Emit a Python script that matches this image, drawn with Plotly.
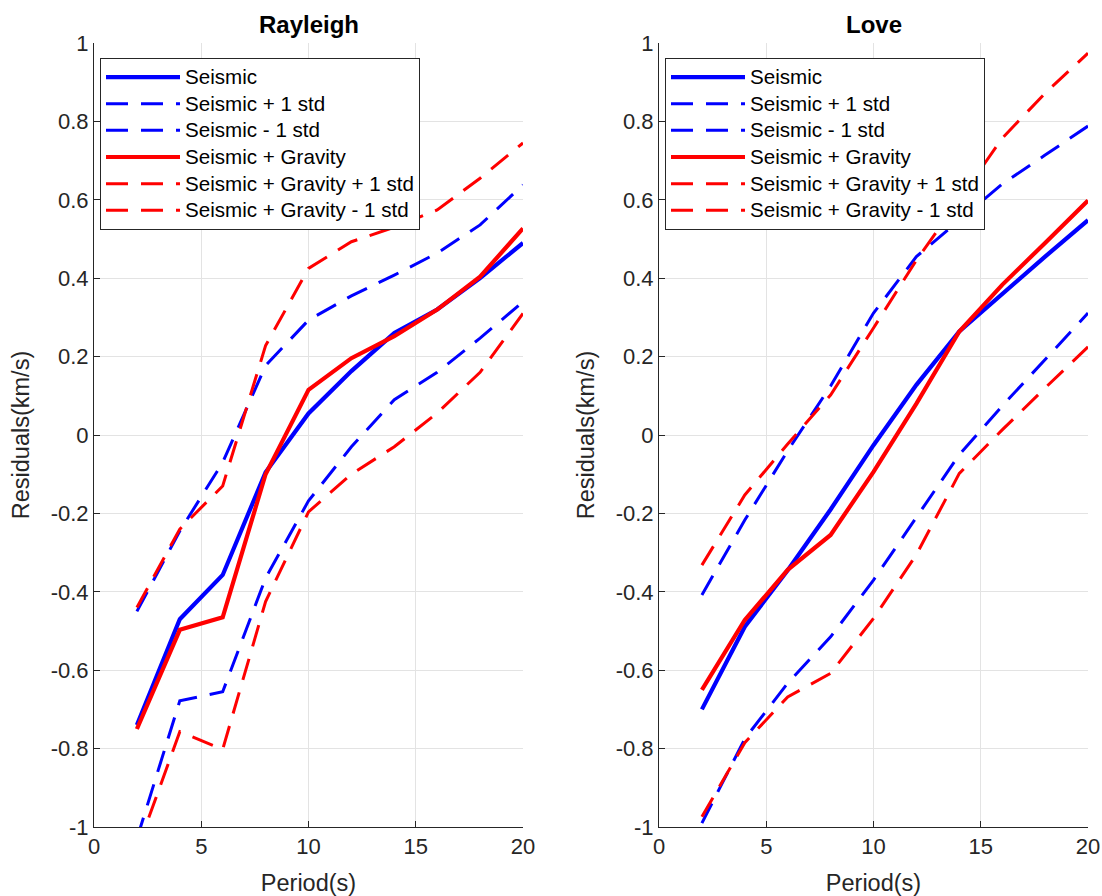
import plotly.graph_objects as go

periods = [2, 4, 6, 8, 10, 12, 14, 16, 18, 20]

# Rayleigh
ray_seis = [-0.74, -0.47, -0.357, -0.095, 0.055, 0.163, 0.26, 0.32, 0.40, 0.49]
ray_seis_p = [-0.45, -0.245, -0.07, 0.177, 0.293, 0.355, 0.408, 0.464, 0.536, 0.638]
ray_seis_m = [-1.03, -0.678, -0.655, -0.365, -0.168, -0.03, 0.09, 0.16, 0.247, 0.34]
ray_grav = [-0.75, -0.497, -0.465, -0.1, 0.115, 0.196, 0.252, 0.32, 0.404, 0.527]
ray_grav_p = [-0.44, -0.24, -0.13, 0.228, 0.425, 0.493, 0.53, 0.574, 0.655, 0.745]
ray_grav_m = [-1.06, -0.757, -0.802, -0.425, -0.196, -0.1, -0.03, 0.056, 0.16, 0.31]

# Love
love_seis = [-0.70, -0.489, -0.345, -0.19, -0.026, 0.128, 0.264, 0.361, 0.455, 0.548]
love_seis_p = [-0.408, -0.217, -0.04, 0.125, 0.311, 0.455, 0.548, 0.64, 0.714, 0.788]
love_seis_m = [-0.99, -0.775, -0.633, -0.515, -0.37, -0.211, -0.05, 0.074, 0.192, 0.311]
love_grav = [-0.65, -0.472, -0.344, -0.255, -0.094, 0.08, 0.264, 0.383, 0.49, 0.598]
love_grav_p = [-0.332, -0.153, -0.023, 0.102, 0.273, 0.446, 0.60, 0.757, 0.872, 0.974]
love_grav_m = [-0.974, -0.785, -0.668, -0.608, -0.468, -0.305, -0.098, 0.013, 0.12, 0.225]

names = ["Seismic", "Seismic + 1 std", "Seismic - 1 std",
         "Seismic + Gravity", "Seismic + Gravity + 1 std", "Seismic + Gravity - 1 std"]
colors = ["#0000ff", "#0000ff", "#0000ff", "#ff0000", "#ff0000", "#ff0000"]
dashed = [False, True, True, False, True, True]

x_ticks = [0, 5, 10, 15, 20]
y_ticks = [-1, -0.8, -0.6, -0.4, -0.2, 0, 0.2, 0.4, 0.6, 0.8, 1]
y_tick_text = ["-1", "-0.8", "-0.6", "-0.4", "-0.2", "0", "0.2", "0.4", "0.6", "0.8", "1"]

FONT = "Liberation Sans, Arial, Helvetica, sans-serif"
TXT = "#262626"

fig = go.Figure()

panels = [
    ("x", "y", "legend", [ray_seis, ray_seis_p, ray_seis_m, ray_grav, ray_grav_p, ray_grav_m]),
    ("x2", "y2", "legend2", [love_seis, love_seis_p, love_seis_m, love_grav, love_grav_p, love_grav_m]),
]
for xa, ya, lg, series in panels:
    for name, col, dsh, vals in zip(names, colors, dashed, series):
        fig.add_trace(go.Scatter(
            x=periods, y=vals, mode="lines",
            name='<span style="font-size:20.6px">' + name + '</span>',
            xaxis=xa, yaxis=ya, legend=lg,
            line=dict(color=col, width=3 if dsh else 4.2, dash="22px,13px" if dsh else "solid"),
        ))

axis_common = dict(
    showline=True, linecolor=TXT, linewidth=1, ticks="inside", ticklen=6, tickcolor=TXT,
    showgrid=True, gridcolor="#e3e3e3", gridwidth=1, zeroline=False, mirror=False,
    tickfont=dict(family=FONT, size=22, color=TXT),
)
xcommon = dict(axis_common, range=[0, 20], tickvals=x_ticks,
               title=dict(text="Period(s)", font=dict(family=FONT, size=23.5, color=TXT), standoff=17))
ycommon = dict(axis_common, range=[-1, 1], tickvals=y_ticks, ticktext=y_tick_text,
               title=dict(text="Residuals(km/s)", font=dict(family=FONT, size=23.5, color=TXT), standoff=14))

L, R, T, B = 94, 14, 43, 69
W, H = 1102, 896
pw = W - L - R
d1 = (523 - L) / pw
d2 = (659 - L) / pw

legend_common = dict(
    bgcolor="white", bordercolor=TXT, borderwidth=1,
    font=dict(family=FONT, size=18.2, color="#000000"),
    xanchor="left", yanchor="top", itemwidth=74,
)

fig.update_layout(
    width=W, height=H,
    margin=dict(l=L, r=R, t=T, b=B, autoexpand=False),
    paper_bgcolor="white", plot_bgcolor="white",
    font=dict(family=FONT, color=TXT),
    xaxis=dict(xcommon, domain=[0, d1], anchor="y"),
    yaxis=dict(ycommon, domain=[0, 1], anchor="x"),
    xaxis2=dict(xcommon, domain=[d2, 1], anchor="y2"),
    yaxis2=dict(ycommon, domain=[0, 1], anchor="x2"),
    legend=dict(legend_common, x=(100 - L) / pw, y=(H - B - 57.7) / (H - T - B)),
    legend2=dict(legend_common, x=(665 - L) / pw, y=(H - B - 57.7) / (H - T - B)),
    annotations=[
        dict(text="<b>Rayleigh</b>", x=d1 / 2, y=(H - B - 25) / (H - T - B), xref="paper", yref="paper",
             showarrow=False, xanchor="center", yanchor="middle",
             font=dict(family=FONT, size=24, color="#000000")),
        dict(text="<b>Love</b>", x=(d2 + 1) / 2, y=(H - B - 25) / (H - T - B), xref="paper", yref="paper",
             showarrow=False, xanchor="center", yanchor="middle",
             font=dict(family=FONT, size=24, color="#000000")),
    ],
    showlegend=True,
)

fig.write_html("out.html", config={"displayModeBar": False},
               post_script="document.body.style.margin='0';document.body.style.padding='0';")
